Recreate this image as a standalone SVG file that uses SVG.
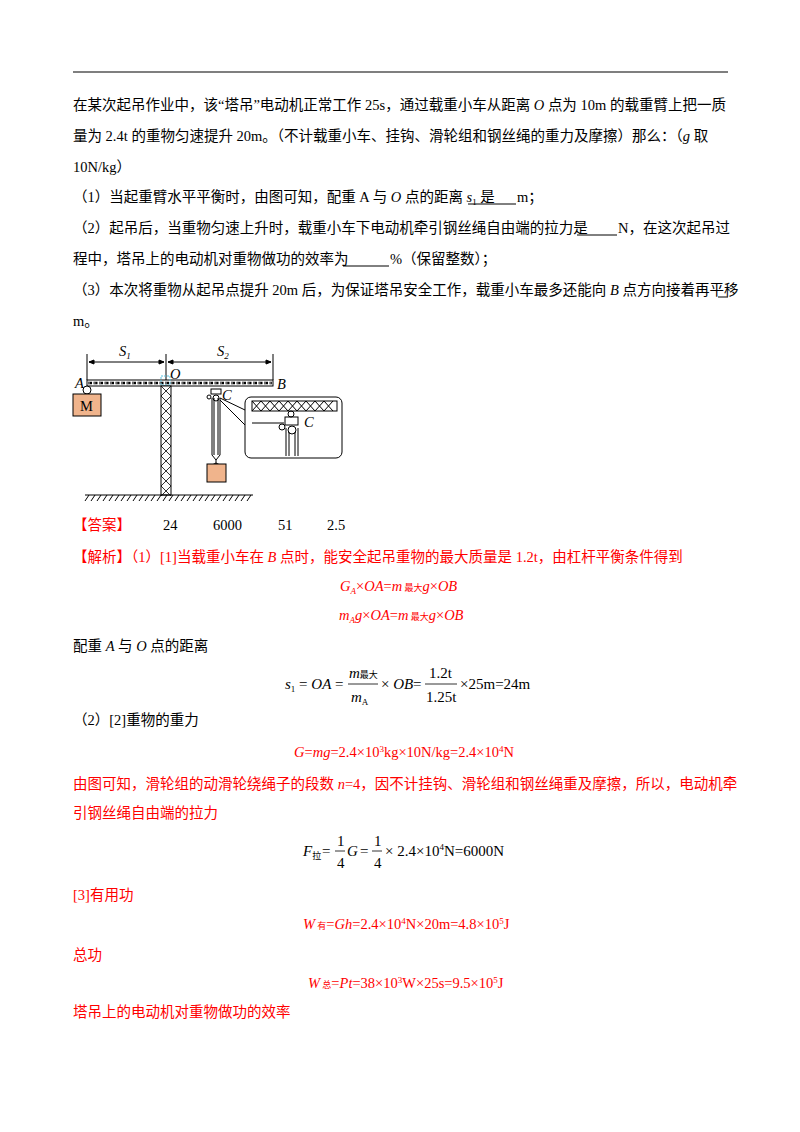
<svg xmlns="http://www.w3.org/2000/svg" width="800" height="1132" viewBox="0 0 800 1132">
<style>
text{font-family:"Liberation Serif","Noto Sans CJK SC",serif;font-size:14.5px;fill:#000}
.r{fill:#ff0000}
.i{font-style:italic}
.s{font-size:9px}
.ln{stroke:#000;stroke-width:1;fill:none}
.f{font-size:15px}
</style>
<rect width="800" height="1132" fill="#fff"/>
<line x1="73" y1="72" x2="728" y2="72" stroke="#000" stroke-width="1.2"/>
<text x="73" y="110">在某次起吊作业中，该“塔吊”电动机正常工作 25s，通过载重小车从距离 <tspan class="i">O</tspan> 点为 10m 的载重臂上把一质</text>
<text x="73" y="141">量为 2.4t 的重物匀速提升 20m。（不计载重小车、挂钩、滑轮组和钢丝绳的重力及摩擦）那么：（<tspan class="i">g</tspan> 取</text>
<text x="73" y="172">10N/kg）</text>
<text x="73" y="202">（1）当起重臂水平平衡时，由图可知，配重 A 与 <tspan class="i">O</tspan> 点的距离 <tspan class="i">s</tspan><tspan class="s" dy="3">1</tspan><tspan dy="-3"> 是</tspan></text>
<line x1="468" y1="204" x2="516" y2="204" stroke="#000"/>
<text x="517" y="202">m；</text>
<text x="73" y="233">（2）起吊后，当重物匀速上升时，载重小车下电动机牵引钢丝绳自由端的拉力是</text>
<line x1="577" y1="235" x2="617" y2="235" stroke="#000"/>
<text x="618" y="233">N，在这次起吊过</text>
<text x="73" y="264">程中，塔吊上的电动机对重物做功的效率为</text>
<line x1="343" y1="266" x2="389" y2="266" stroke="#000"/>
<text x="390" y="264">%（保留整数）；</text>
<text x="73" y="295">（3）本次将重物从起吊点提升 20m 后，为保证塔吊安全工作，载重小车最多还能向 <tspan class="i">B</tspan> 点方向接着再平移</text>
<line x1="718" y1="297" x2="728" y2="297" stroke="#000"/>
<text x="73" y="326">m。</text>

<g id="figure">
<g id="dims" class="ln">
<line x1="87" y1="354" x2="87" y2="380"/><line x1="166" y1="354" x2="166" y2="380"/><line x1="273" y1="354" x2="273" y2="380"/>
<line x1="89" y1="362" x2="164" y2="362"/><line x1="168" y1="362" x2="271" y2="362"/>
<path d="M89 362l5-2v4zM164 362l-5-2v4zM168 362l5-2v4zM271 362l-5-2v4z" fill="#000"/>
</g>
<text x="119" y="356" class="i">S<tspan class="s" dy="3">1</tspan></text>
<text x="217" y="356" class="i">S<tspan class="s" dy="3">2</tspan></text>
<g id="beam">
<rect x="87" y="380" width="186" height="6" fill="#fff" stroke="#000"/>
<path d="M88 383H272" stroke="#000" stroke-width="2.5" stroke-dasharray="4,1.5"/>
<path d="M88 383H272" stroke="#fff" stroke-width="0.8" stroke-dasharray="2,3.5"/>
</g>
<rect x="161" y="376" width="9" height="9" fill="none" stroke="#5bc0de" stroke-dasharray="2,1"/>
<g id="tower">
<rect x="161" y="386" width="10" height="109" fill="#fff" stroke="#000"/>
<path d="M161 386l10 10-10 10 10 10-10 10 10 10-10 10 10 10-10 10 10 10-10 10 10 10M171 386l-10 10 10 10-10 10 10 10-10 10 10 10-10 10 10 10-10 10 10 10-10 10" stroke="#000" stroke-width="0.8" fill="none"/>
</g>
<g id="ground" class="ln">
<line x1="85" y1="495" x2="253" y2="495"/>
<path d="M89 495l-4 6M95 495l-4 6M101 495l-4 6M107 495l-4 6M113 495l-4 6M119 495l-4 6M125 495l-4 6M131 495l-4 6M137 495l-4 6M143 495l-4 6M149 495l-4 6M155 495l-4 6M161 495l-4 6M167 495l-4 6M173 495l-4 6M179 495l-4 6M185 495l-4 6M191 495l-4 6M197 495l-4 6M203 495l-4 6M209 495l-4 6M215 495l-4 6M221 495l-4 6M227 495l-4 6M233 495l-4 6M239 495l-4 6M245 495l-4 6M251 495l-4 6"/>
</g>
<g id="M">
<circle cx="87" cy="390" r="4" fill="#fff" stroke="#000"/>
<rect x="73" y="394" width="28" height="22" fill="#f0b48c" stroke="#000"/>
<text x="80" y="411">M</text>
</g>
<text x="75" y="388" class="i">A</text>
<text x="170" y="379" class="i">O</text>
<text x="277" y="389" class="i">B</text>
<g id="trolley" class="ln">
<rect x="211" y="389" width="10" height="5" fill="#fff"/>
<circle cx="209" cy="397" r="2"/>
<circle cx="216" cy="398" r="3"/>
<line x1="212" y1="398" x2="212" y2="455"/><line x1="214" y1="398" x2="214" y2="455"/>
<line x1="218" y1="398" x2="218" y2="455"/><line x1="220" y1="398" x2="220" y2="455"/>
<path d="M212 455l4 5 4-5M216 460v4M208 467l8-4 8 4"/>
<line x1="220" y1="398" x2="245" y2="410"/><line x1="220" y1="400" x2="245" y2="425"/>
</g>
<rect x="207" y="464" width="19" height="18" fill="#f0b48c" stroke="#000"/>
<text x="222" y="400" class="i">C</text>
<g id="inset" class="ln">
<rect x="245" y="397" width="97" height="61" rx="6" fill="#fff"/>
<rect x="252" y="401" width="85" height="10"/>
<path d="M252 401l9 10 9-10 9 10 9-10 9 10 9-10 9 10 9-10 9 10M252 411l9-10 9 10 9-10 9 10 9-10 9 10 9-10 9 10 9-10"/>
<circle cx="291" cy="414" r="3"/>
<rect x="285" y="417" width="13" height="8"/>
<line x1="252" y1="423" x2="284" y2="423"/>
<circle cx="282" cy="427" r="3"/>
<circle cx="292" cy="430" r="4"/>
<path d="M286 428v28M289 432v24M295 432v24M298 428v28"/>
</g>
<text x="304" y="427" class="i">C</text>
</g>

<text x="73" y="530" class="r">【答案】</text>
<text x="163" y="530">24</text><text x="213" y="530">6000</text><text x="278" y="530">51</text><text x="327" y="530">2.5</text>
<text x="73" y="562" class="r">【解析】（1）[1]当载重小车在 <tspan class="i">B</tspan> 点时，能安全起吊重物的最大质量是 1.2t，由杠杆平衡条件得到</text>
<text x="340" y="591" class="r i">G<tspan class="s" dy="3">A</tspan><tspan dy="-3" font-style="normal">×</tspan>OA<tspan font-style="normal">=</tspan>m<tspan class="s" font-style="normal"> 最大</tspan>g<tspan font-style="normal">×</tspan>OB</text>
<text x="339" y="620" class="r i">m<tspan class="s" dy="3">A</tspan><tspan dy="-3">g</tspan><tspan font-style="normal">×</tspan>OA<tspan font-style="normal">=</tspan>m<tspan class="s" font-style="normal"> 最大</tspan>g<tspan font-style="normal">×</tspan>OB</text>
<text x="73" y="651">配重 <tspan class="i">A</tspan> 与 <tspan class="i">O</tspan> 点的距离</text>
<g id="eq1">
<text x="285" y="689" class="f"><tspan class="i">s</tspan><tspan class="s" dy="3">1</tspan><tspan dy="-3"> = </tspan><tspan class="i">OA</tspan></text>
<text x="335" y="689" class="f">=</text>
<text x="349" y="678" class="f i">m<tspan class="s" font-style="normal">最大</tspan></text>
<line x1="348" y1="684" x2="378" y2="684" stroke="#000" stroke-width="0.8"/>
<text x="351" y="702" class="f i">m<tspan class="s" dy="3" font-style="normal">A</tspan></text>
<text x="381" y="689" class="f">× <tspan class="i">OB</tspan></text>
<text x="413" y="689" class="f">=</text>
<text x="429" y="678" class="f">1.2t</text>
<line x1="425" y1="684" x2="457" y2="684" stroke="#000" stroke-width="0.8"/>
<text x="426" y="702" class="f">1.25t</text>
<text x="460" y="689" class="f">×25m=24m</text>
</g>
<text x="73" y="725">（2）[2]重物的重力</text>
<text x="294" y="757" class="r"><tspan class="i">G</tspan>=<tspan class="i">mg</tspan>=2.4×10<tspan class="s" dy="-5">3</tspan><tspan dy="5">kg×10N/kg=2.4×10</tspan><tspan class="s" dy="-5">4</tspan><tspan dy="5">N</tspan></text>
<text x="73" y="789" class="r">由图可知，滑轮组的动滑轮绕绳子的段数 <tspan class="i">n</tspan>=4，因不计挂钩、滑轮组和钢丝绳重及摩擦，所以，电动机牵</text>
<text x="73" y="818" class="r">引钢丝绳自由端的拉力</text>
<g id="eq2">
<text x="303" y="856" class="f"><tspan class="i">F</tspan><tspan class="s" dy="3">拉</tspan></text>
<text x="322" y="856" class="f">=</text>
<text x="337" y="846" class="f">1</text>
<line x1="335" y1="851" x2="345" y2="851" stroke="#000" stroke-width="0.8"/>
<text x="337" y="868" class="f">4</text>
<text x="347" y="856" class="f"><tspan class="i">G</tspan></text>
<text x="360" y="856" class="f">=</text>
<text x="374" y="846" class="f">1</text>
<line x1="372" y1="851" x2="382" y2="851" stroke="#000" stroke-width="0.8"/>
<text x="374" y="868" class="f">4</text>
<text x="385" y="856" class="f">× 2.4×10<tspan class="s" dy="-6">4</tspan><tspan dy="6">N=6000N</tspan></text>
</g>
<text x="73" y="900" class="r">[3]有用功</text>
<text x="303" y="929" class="r"><tspan class="i">W</tspan><tspan class="s"> 有</tspan>=<tspan class="i">Gh</tspan>=2.4×10<tspan class="s" dy="-5">4</tspan><tspan dy="5">N×20m=4.8×10</tspan><tspan class="s" dy="-5">5</tspan><tspan dy="5">J</tspan></text>
<text x="73" y="960" class="r">总功</text>
<text x="308" y="988" class="r"><tspan class="i">W</tspan><tspan class="s"> 总</tspan>=<tspan class="i">Pt</tspan>=38×10<tspan class="s" dy="-5">3</tspan><tspan dy="5">W×25s=9.5×10</tspan><tspan class="s" dy="-5">5</tspan><tspan dy="5">J</tspan></text>
<text x="73" y="1017" class="r">塔吊上的电动机对重物做功的效率</text>
</svg>
